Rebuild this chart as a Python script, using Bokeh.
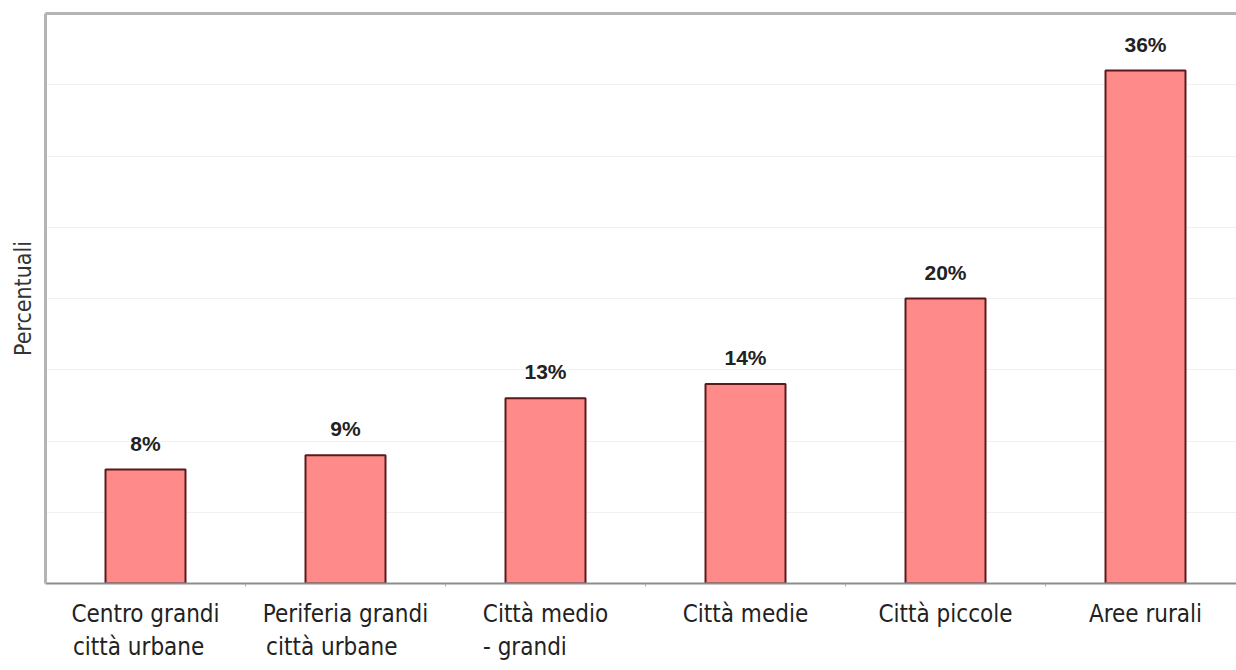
from bokeh.plotting import figure
from bokeh.models import Range1d, FixedTicker, LinearAxis, ColumnDataSource
from bokeh.core.properties import value
from bokeh.embed import file_html
from bokeh.resources import INLINE

NB = "\u00a0"
categories = ["Centro grandi\ncittà urbane" + NB * 2, "Periferia grandi\ncittà urbane" + NB * 4,
              "Città medio\n- grandi" + NB * 6, "Città medie", "Città piccole", "Aree rurali"]
values = [8, 9, 13, 14, 20, 36]
bar_labels = ["8%", "9%", "13%", "14%", "20%", "36%"]
y_grid_ticks = [5, 10, 15, 20, 25, 30, 35]

COND = "DejaVu Sans Condensed, Roboto, sans-serif"

xs = list(range(len(categories)))
src = ColumnDataSource(dict(x=xs, top=values, lab=bar_labels))

p = figure(width=1236, height=670, output_backend="svg", toolbar_location=None,
           x_range=Range1d(-0.5, 5.455), y_range=Range1d(0, 40),
           min_border_left=45, min_border_right=0, min_border_top=13, min_border_bottom=87)
p.outline_line_color = None
p.background_fill_color = "white"

p.vbar(x="x", top="top", width=0.4, source=src, fill_color="#ff8a8a",
       line_color="#5a1a1a", line_width=2)
p.text(x="x", y="top", text="lab", source=src, text_align="center", text_baseline="bottom",
       y_offset=-15, text_font=value("Liberation Sans"), text_font_style="bold",
       text_font_size="21px", text_color="#222222")

# x axis
xa = p.xaxis[0]
xa.ticker = FixedTicker(ticks=xs, minor_ticks=[i + 0.5 for i in xs[:-1]])
xa.major_label_overrides = {i: c for i, c in zip(xs, categories)}
xa.major_label_text_font = COND
xa.major_label_text_font_size = "24px"
xa.major_label_text_color = "#222222"
xa.major_label_standoff = 10
xa.major_tick_line_color = None
xa.minor_tick_line_color = "#aaaaaa"
xa.minor_tick_out = 3
xa.minor_tick_in = 0
xa.axis_line_color = "#8c8c8c"
xa.axis_line_width = 2

# y axis
ya = p.yaxis[0]
ya.ticker = FixedTicker(ticks=[])
ya.axis_label = "Percentuali"
ya.axis_label_text_font = COND
ya.axis_label_text_font_size = "23px"
ya.axis_label_text_font_style = "normal"
ya.axis_label_text_color = "#333333"
ya.axis_label_standoff = 10
ya.axis_line_color = "#b4b4b4"
ya.axis_line_width = 3
ya.major_tick_line_color = None
ya.minor_tick_line_color = None

# top border
top_axis = LinearAxis(ticker=FixedTicker(ticks=[]), axis_line_color="#b4b4b4", axis_line_width=3,
                      major_tick_line_color=None, minor_tick_line_color=None,
                      major_label_text_font_size="0px")
p.add_layout(top_axis, "above")

p.xgrid.grid_line_color = None
p.ygrid.ticker = FixedTicker(ticks=y_grid_ticks)
p.ygrid.grid_line_color = "#f0f0f0"
p.ygrid.grid_line_width = 1

open("out.html", "w").write(file_html(p, INLINE))
